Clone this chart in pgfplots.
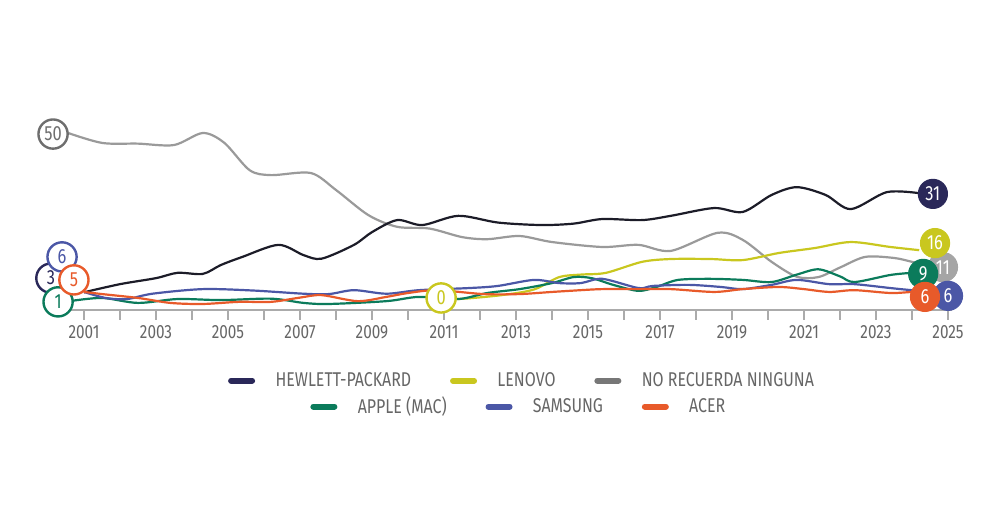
\documentclass[border=0pt]{standalone}
\usepackage{fontspec}
\setmainfont{Fira Sans}[FakeStretch=0.8]
\usepackage{pgfplots}
\pgfplotsset{compat=1.18}
\definecolor{hpc}{HTML}{2A2859}
\definecolor{hpline}{HTML}{1C1C28}
\definecolor{lenovoc}{HTML}{C9C71F}
\definecolor{grayline}{HTML}{9A9A9A}
\definecolor{grayfill}{HTML}{A5A5A5}
\definecolor{grayout}{HTML}{6E6E6E}
\definecolor{graylegend}{HTML}{777777}
\definecolor{applec}{HTML}{0B7B5B}
\definecolor{samsungc}{HTML}{4B57A6}
\definecolor{acerc}{HTML}{E85A2A}
\definecolor{axisgray}{HTML}{ABABAB}
\definecolor{labelgray}{HTML}{666666}
\newcommand{\lblfont}{\fontsize{9.6}{10}\selectfont}
\newcommand{\legfont}{\fontsize{10}{11}\selectfont}
\newcommand{\circfont}{\fontsize{10.3}{10}\selectfont}
\pgfplotsset{
  base/.style={
    at={(33bp,110bp)}, anchor=south west, scale only axis,
    width=442.8bp, height=106.2bp,
    xmin=2000.5, xmax=2025.1, ymin=0, ymax=60, clip=false,
  },
  legimg/.style={
    legend image code/.code={
      \path (0bp,0bp) (13.5bp,0bp);
      \draw[##1, line width=2.9bp, line cap=round] (1.45bp,0bp) -- (12.05bp,0bp);}
  },
  legsty/.style={
    legend columns=3,
    legend style={draw=none, fill=none, inner sep=0pt, outer sep=0pt,
      font=\legfont, text=labelgray, row sep=0pt,
      nodes={inner sep=0pt},
      /tikz/every odd column/.append style={column sep=10bp},
      /tikz/every even column/.append style={column sep=19.2bp}},
  },
  ser/.style={smooth, tension=0.5, line width=1.1bp, no marks},
  oc/.style={only marks, mark=*, mark size=7.3bp,
    mark options={draw=#1, fill=white, line width=1.2bp},
    nodes near coords, point meta=explicit symbolic,
    every node near coord/.append style={anchor=center, text=#1, font=\circfont, inner sep=0pt}},
  fc/.style={only marks, mark=*, mark size=7.3bp,
    mark options={draw=#1, fill=#1, line width=0.5bp},
    nodes near coords, point meta=explicit symbolic,
    every node near coord/.append style={anchor=center, text=white, font=\circfont, inner sep=0pt}},
}
\begin{document}
\begin{tikzpicture}
\path[use as bounding box] (0,0) rectangle (500bp,265bp);
\begin{axis}[base, legimg, legsty,
  axis y line=none, axis x line*=bottom,
  x axis line style={draw=axisgray, line width=1bp, -},
  xtick={2001,2003,...,2025},
  xticklabels={2001,2003,2005,2007,2009,2011,2013,2015,2017,2019,2021,2023,2025},
  minor xtick={2002,2004,...,2024},
  tick align=outside, major tick length=5bp, minor tick length=5bp,
  every tick/.style={draw=axisgray, line width=0.8bp},
  xticklabel style={font=\lblfont, text=labelgray, anchor=north, inner sep=0pt, yshift=-2.8bp},
  legend style={at={(0.1826,-0.333)}, anchor=west},
]
\addlegendimage{hpc}\addlegendentry{HEWLETT-PACKARD}
\addlegendimage{lenovoc}\addlegendentry{LENOVO}
\addlegendimage{graylegend}\addlegendentry{NO RECUERDA NINGUNA}

% No recuerda ninguna
\addplot[ser, grayline, forget plot] coordinates {
(2000.5,50.2) (2001.5,47.2) (2002.5,47.0) (2003.5,46.6) (2004.3,50.0) (2004.9,47.2)
(2005.6,39.5) (2006.2,38.1) (2007.3,38.7) (2008.0,33.9) (2008.9,26.8) (2009.7,23.5)
(2010.6,23.0) (2011.5,20.6) (2012.2,20.0) (2013.1,20.9) (2014.0,19.2) (2015.4,17.8)
(2016.4,18.4) (2017.3,16.7) (2018.6,21.8) (2019.3,19.8) (2020.1,13.6) (2020.8,9.4)
(2021.4,9.3) (2022.0,12.0) (2022.7,15.0) (2023.5,14.7) (2024.0,13.6) (2024.5,12.4)};
% Hewlett-Packard
\addplot[ser, hpline, forget plot] coordinates {
(2001.0,5.0) (2002.0,7.3) (2003.0,9.0) (2003.6,10.5) (2004.3,10.2) (2004.8,12.7)
(2005.4,15.0) (2006.4,18.4) (2007.1,15.5) (2007.6,14.5) (2008.5,18.4) (2009.0,22.0)
(2009.7,25.4) (2010.4,24.0) (2011.4,26.6) (2012.5,24.7) (2013.7,24.0) (2014.6,24.4)
(2015.4,25.7) (2016.5,25.4) (2017.3,26.6) (2018.5,28.8) (2019.3,27.7) (2020.1,32.5)
(2020.8,34.7) (2021.6,32.5) (2022.3,28.5) (2023.3,33.3) (2024.2,33.0)};
% Lenovo
\addplot[ser, lenovoc, forget plot] coordinates {
(2010.9,3.4) (2011.4,3.1) (2012.6,4.2) (2013.5,5.8) (2014.2,9.3) (2014.8,10.0)
(2015.5,10.5) (2016.5,13.6) (2017.3,14.4) (2018.4,14.4) (2019.3,14.1) (2020.3,16.1)
(2021.3,17.5) (2022.3,19.2) (2023.4,17.8) (2024.2,16.9)};
% Apple
\addplot[ser, applec, forget plot] coordinates {
(2000.6,2.5) (2001.5,3.4) (2002.5,2.0) (2003.6,3.1) (2004.8,2.8) (2006.2,3.2)
(2007.1,2.0) (2007.8,1.7) (2009.4,2.5) (2010.3,3.7) (2011.4,3.1) (2012.2,4.8)
(2013.1,5.9) (2014.0,7.6) (2014.6,9.3) (2015.1,9.0) (2015.7,7.1) (2016.4,5.4)
(2016.9,6.5) (2017.5,8.5) (2018.4,8.8) (2019.3,8.5) (2020.1,7.9) (2020.8,10.0)
(2021.4,11.5) (2022.0,9.5) (2022.4,7.9) (2023.4,9.9) (2024.0,10.5)};
% Samsung
\addplot[ser, samsungc, forget plot] coordinates {
(2001.0,5.1) (2001.6,3.4) (2002.2,3.1) (2002.9,4.6) (2004.3,5.9) (2005.7,5.5)
(2007.1,4.6) (2007.8,4.5) (2008.5,5.6) (2009.4,4.6) (2010.3,5.6) (2011.7,6.2)
(2012.5,6.8) (2013.5,8.5) (2014.2,7.6) (2014.8,7.6) (2015.4,8.8) (2016.4,6.2)
(2016.8,6.8) (2017.8,7.1) (2018.7,6.5) (2019.3,5.9) (2020.1,7.1) (2020.8,8.5)
(2021.7,7.3) (2022.4,7.3) (2023.4,6.2) (2024.0,5.6) (2024.5,5.4)};
% Acer
\addplot[ser, acerc, forget plot] coordinates {
(2001.0,5.1) (2001.5,4.5) (2002.5,3.4) (2003.4,2.0) (2004.3,1.7) (2005.3,2.3)
(2006.2,2.3) (2007.0,3.5) (2007.6,4.2) (2008.6,2.5) (2009.4,3.7) (2010.0,4.8)
(2010.8,5.6) (2012.1,4.5) (2013.1,4.5) (2014.0,5.1) (2014.8,5.6) (2015.4,5.9)
(2016.4,5.9) (2017.3,5.9) (2018.5,5.1) (2019.3,5.9) (2020.3,6.5) (2021.0,5.9)
(2021.7,5.1) (2022.4,5.6) (2023.4,4.8) (2024.0,5.1) (2024.4,5.1)};

% start labels
\addplot[oc=grayout, forget plot] coordinates {(2000.14,49.7) [50]};
\addplot[oc=hpc, forget plot] coordinates {(2000.08,9.0) [3]};
\addplot[oc=samsungc, forget plot] coordinates {(2000.39,15.0) [6]};
\addplot[oc=applec, forget plot] coordinates {(2000.28,2.3) [1]};
\addplot[oc=acerc, forget plot] coordinates {(2000.72,8.5) [5]};
\addplot[oc=lenovoc, forget plot] coordinates {(2010.92,3.4) [0]};
% end labels
\addplot[fc=hpc, forget plot] coordinates {(2024.58,32.8) [31]};
\addplot[fc=grayfill, forget plot] coordinates {(2024.86,12.1) [11]};
\addplot[fc=lenovoc, forget plot] coordinates {(2024.64,18.9) [16]};
\addplot[fc=applec, forget plot] coordinates {(2024.31,10.2) [9]};
\addplot[fc=samsungc, forget plot] coordinates {(2025.0,4.0) [6]};
\addplot[fc=acerc, forget plot] coordinates {(2024.36,3.7) [6]};
\end{axis}
\begin{axis}[base, legimg, legsty, hide axis,
  legend style={at={(0.2755,-0.455)}, anchor=west}]
\addplot[draw=none, forget plot] coordinates {(2010,10)};
\addlegendimage{applec}\addlegendentry{APPLE (MAC)}
\addlegendimage{samsungc}\addlegendentry{SAMSUNG}
\addlegendimage{acerc}\addlegendentry{ACER}
\end{axis}
\end{tikzpicture}
\end{document}
